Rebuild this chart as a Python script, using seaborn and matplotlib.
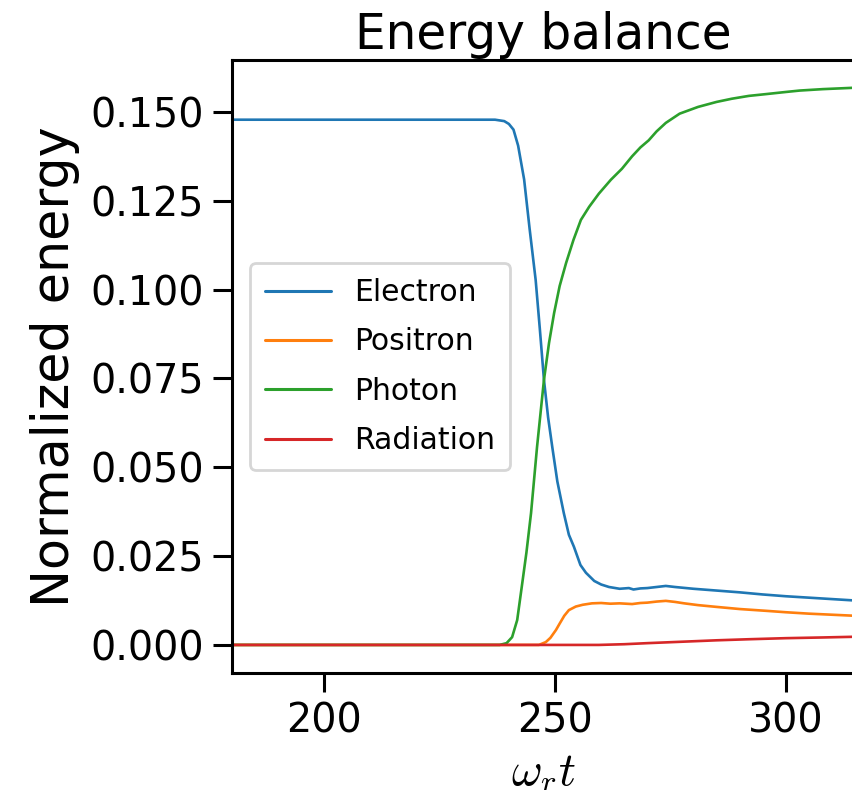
import numpy as np
import pandas as pd
import matplotlib
matplotlib.use("Agg")
import matplotlib.pyplot as plt
import seaborn as sns

# ---- data ----
t_electron = [180, 237, 239, 240, 241, 242, 243.3, 244.5, 245.8, 246.7, 247.6, 248.5, 249.4,
              250.5, 251.9, 253, 254.1, 255.5, 256.7, 258.5, 260, 261.7, 264, 266, 267,
              268.5, 270, 272, 274, 276, 280, 285, 290, 295, 300, 305, 310, 315]
e_electron = [0.1478, 0.1478, 0.1474, 0.1466, 0.1450, 0.1405, 0.131, 0.117, 0.1027, 0.089,
              0.0746, 0.064, 0.0557, 0.046, 0.0371, 0.031, 0.0276, 0.0225, 0.0203, 0.0180,
              0.0170, 0.0163, 0.0158, 0.0160, 0.0156, 0.0159, 0.0160, 0.0163, 0.0166, 0.0163,
              0.0158, 0.0153, 0.0148, 0.0142, 0.0137, 0.0133, 0.0129, 0.0125]

t_positron = [180, 246.5, 248, 249, 250.2, 251, 252, 253, 254.5, 256, 258, 260, 262, 264,
              266.7, 268.5, 270, 272, 274, 276, 278, 281, 285, 290, 295.7, 300, 305, 310, 315]
e_positron = [0.0, 0.0, 0.0008, 0.0020, 0.0042, 0.0060, 0.0082, 0.0098, 0.0108, 0.0113,
              0.0117, 0.0118, 0.0116, 0.0117, 0.0115, 0.0118, 0.0119, 0.0122, 0.0124, 0.0121,
              0.0117, 0.0112, 0.0107, 0.0101, 0.0096, 0.0092, 0.0088, 0.0085, 0.0082]

t_photon = [180, 238, 239.5, 240.7, 241.8, 242.9, 243.8, 244.8, 246.1, 247.6, 248.7, 249.8,
            251, 252.4, 254, 255.6, 257.4, 259.5, 262.1, 264.5, 266.7, 268.5, 270.3, 272,
            274, 277, 281, 285, 288.3, 292, 295.7, 300, 303, 308, 315]
e_photon = [0.0, 0.0, 0.0005, 0.0022, 0.0070, 0.0174, 0.0260, 0.0371, 0.0557, 0.0746, 0.0850,
            0.0934, 0.1010, 0.1075, 0.1140, 0.1196, 0.1233, 0.1270, 0.1309, 0.1340, 0.1375,
            0.1400, 0.1420, 0.1445, 0.1469, 0.1495, 0.1514, 0.1528, 0.1537, 0.1545, 0.1550,
            0.1556, 0.1560, 0.1564, 0.1568]

t_radiation = [180, 259.5, 265, 270, 277.5, 285, 292, 300, 308, 315]
e_radiation = [0.0, 0.0, 0.0002, 0.0005, 0.0009, 0.0013, 0.0016, 0.0019, 0.0021, 0.0023]

series_names = ["Electron", "Positron", "Photon", "Radiation"]
series_colors = ["#1f77b4", "#ff7f0e", "#2ca02c", "#d62728"]

title_text = "Energy balance"
xlabel_text = r"$\omega_r t$"
ylabel_text = "Normalized energy"
x_ticks = [200, 250, 300]
y_ticks = [0.000, 0.025, 0.050, 0.075, 0.100, 0.125, 0.150]

# ---- build long-form table ----
frames = []
for name, tt, ee in zip(series_names,
                        [t_electron, t_positron, t_photon, t_radiation],
                        [e_electron, e_positron, e_photon, e_radiation]):
    frames.append(pd.DataFrame({"t": tt, "energy": ee, "species": name}))
df = pd.concat(frames, ignore_index=True)

sns.set_theme(context="poster", style="ticks")
plt.rcParams["font.family"] = ["DejaVu Sans"]
plt.rcParams["mathtext.fontset"] = "cm"
plt.rcParams["text.color"] = "black"
plt.rcParams["axes.labelcolor"] = "black"
plt.rcParams["axes.edgecolor"] = "black"

fig = plt.figure(figsize=(8.53, 7.90), dpi=100)
ax = fig.add_axes([232 / 853, 117 / 790, 623 / 853, 613 / 790])

sns.lineplot(data=df, x="t", y="energy", hue="species", hue_order=series_names,
             palette=series_colors, linewidth=1.9, ax=ax, legend=True, estimator=None,
             sort=True)

ax.set_xlim(180, 315)
ax.set_ylim(-0.0079, 0.1646)
ax.set_xticks(x_ticks)
ax.set_yticks(y_ticks)
ax.set_yticklabels([f"{v:.3f}" for v in y_ticks])

for sp in ax.spines.values():
    sp.set_linewidth(2.2)
    sp.set_color("black")
ax.tick_params(axis="both", which="major", length=13.5, width=2.2, pad=7,
               labelsize=28.5, colors="black")

ax.set_title(title_text, fontsize=35, pad=8, color="black")
ax.set_xlabel(xlabel_text, fontsize=34, labelpad=6, color="black")
ax.set_ylabel(ylabel_text, fontsize=36.5, labelpad=7, color="black")

leg = ax.get_legend()
handles = leg.legend_handles
labels = [txt.get_text() for txt in leg.get_texts()]
leg.remove()
new_leg = ax.legend(handles, labels, loc="center left", fontsize=21.5, frameon=True,
                    handlelength=2.2, borderaxespad=0.6, labelspacing=0.68,
                    borderpad=0.5)
for h in new_leg.legend_handles:
    h.set_linewidth(2.2)
for txt in new_leg.get_texts():
    txt.set_color("black")

fig.savefig("out.png", dpi=100)
